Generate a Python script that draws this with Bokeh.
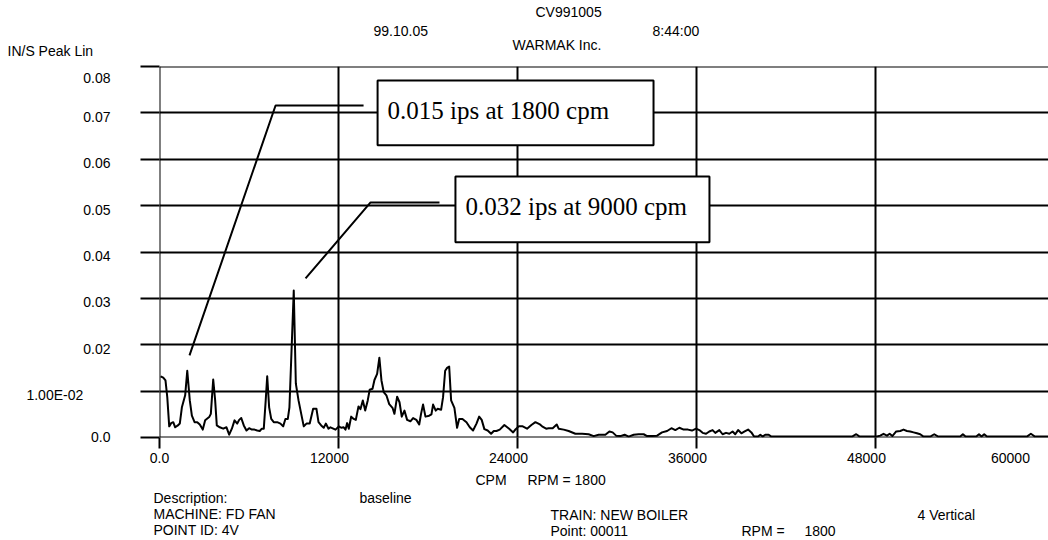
from bokeh.plotting import figure
from bokeh.layouts import column
from bokeh.models import Range1d, LinearAxis, FixedTicker, Grid, Label, BoxAnnotation
from bokeh.core.properties import value
from bokeh.embed import file_html
from bokeh.resources import INLINE

# ---------------- data ----------------
freq_cpm = [
    70, 250, 400, 520, 650, 780, 920, 1050, 1230, 1360,
    1500, 1720, 1860, 2030, 2170, 2350, 2530, 2700, 2900, 3060,
    3330, 3440, 3600, 3730, 3840, 4040, 4270, 4490, 4670, 4850,
    5030, 5210, 5340, 5480, 5650, 5830, 6010, 6190, 6370, 6550,
    6720, 6860, 6990, 7120, 7220, 7350, 7490, 7660, 7890, 8110,
    8290, 8440, 8600, 8710, 9000, 9140, 9320, 9500, 9670, 9850,
    10070, 10300, 10520, 10660, 10840, 11010, 11150, 11330, 11460,
    11800, 12020, 12180, 12350, 12470, 12580, 12690, 12850, 13020, 13160,
    13340, 13470, 13630, 13790, 13960, 14090, 14280, 14410, 14590, 14740,
    14880, 15030, 15210, 15400, 15620, 15750, 15930, 16090, 16240, 16420,
    16600, 16820, 17000, 17220, 17410, 17540, 17670, 17830, 18080, 18230,
    18340, 18520, 18650, 18880, 19010, 19150, 19280, 19420, 19550, 19770,
    19950, 20090, 20310, 20580, 20800, 21020, 21250, 21430, 21600, 21780,
    22000, 22230, 22410, 22590, 22810, 23120, 23440, 23710, 23880, 24080,
    24350, 24640, 24930, 25200, 25470, 25650, 25920, 26090, 26360, 26630,
    26760, 27100, 27430, 27880, 28330, 28770, 29110, 29440, 29890, 30160,
    30380, 30610, 30900, 31180, 31450, 31790, 32120, 32460, 32690, 33020,
    33360, 33690, 34030, 34320, 34580, 34850, 35140, 35430, 35700, 35970,
    36190, 36410, 36640, 36860, 37080, 37260, 37530, 37750, 37980, 38200,
    38420, 38600, 38790, 39010, 39230, 39460, 39680, 39860, 40130, 40280,
    40430, 40610, 40840, 41020, 41280,
    46430, 46710, 46940, 48100, 48320, 48540, 48770, 48950, 49130, 49390,
    49660, 49880, 50110, 50330, 50550, 50780, 51000, 51220, 51670, 51940,
    52210, 53680, 53860, 54040, 54760, 54940, 55110, 55290, 55470, 58150,
    58420, 58690, 59600,
]
amp_ips = [
    0.0132, 0.0129, 0.0123, 0.0087, 0.0024, 0.0031, 0.0033, 0.0022, 0.0026, 0.0030,
    0.0065, 0.0091, 0.0144, 0.0080, 0.0047, 0.0033, 0.0033, 0.0028, 0.0017, 0.0037,
    0.0044, 0.0051, 0.0125, 0.0080, 0.0026, 0.0022, 0.0019, 0.0022, 0.0006, 0.0019,
    0.0037, 0.0030, 0.0038, 0.0042, 0.0026, 0.0015, 0.0020, 0.0017, 0.0017, 0.0015,
    0.0014, 0.0019, 0.0019, 0.0080, 0.0132, 0.0065, 0.0040, 0.0033, 0.0033, 0.0030,
    0.0024, 0.0040, 0.0040, 0.0065, 0.0317, 0.0116, 0.0080, 0.0051, 0.0024, 0.0030,
    0.0030, 0.0062, 0.0062, 0.0033, 0.0026, 0.0021, 0.0030, 0.0019, 0.0022,
    0.0017, 0.0024, 0.0021, 0.0022, 0.0017, 0.0031, 0.0019, 0.0045, 0.0040, 0.0038,
    0.0067, 0.0061, 0.0080, 0.0058, 0.0080, 0.0103, 0.0105, 0.0124, 0.0137, 0.0172,
    0.0123, 0.0098, 0.0091, 0.0072, 0.0064, 0.0051, 0.0088, 0.0076, 0.0045, 0.0058,
    0.0038, 0.0035, 0.0042, 0.0038, 0.0028, 0.0052, 0.0071, 0.0045, 0.0047, 0.0050,
    0.0071, 0.0058, 0.0062, 0.0060, 0.0087, 0.0144, 0.0150, 0.0153, 0.0080, 0.0064,
    0.0021, 0.0040, 0.0040, 0.0033, 0.0022, 0.0015, 0.0030, 0.0045, 0.0038, 0.0018,
    0.0015, 0.0008, 0.0014, 0.0014, 0.0017, 0.0027, 0.0019, 0.0011, 0.0018, 0.0024,
    0.0024, 0.0019, 0.0027, 0.0033, 0.0029, 0.0024, 0.0019, 0.0020, 0.0020, 0.0028,
    0.0019, 0.0017, 0.0014, 0.0008, 0.0008, 0.0007, 0.0003, 0.0006, 0.0006, 0.0013,
    0.0011, 0.0004, 0.0003, 0.0006, 0.0002, 0.0006, 0.0007, 0.0007, 0.0003, 0.0003,
    0.0004, 0.0011, 0.0014, 0.0020, 0.0016, 0.0021, 0.0017, 0.0017, 0.0015, 0.0019,
    0.0016, 0.0010, 0.0008, 0.0013, 0.0016, 0.0010, 0.0016, 0.0007, 0.0010, 0.0008,
    0.0013, 0.0007, 0.0016, 0.0009, 0.0013, 0.0017, 0.0011, 0.0002, 0.0002, 0.0006,
    0.0002, 0.0006, 0.0006, 0.0002, 0.0002,
    0.0002, 0.0007, 0.0002, 0.0002, 0.0004, 0.0008, 0.0004, 0.0008, 0.0003, 0.0013,
    0.0014, 0.0017, 0.0014, 0.0013, 0.0011, 0.0009, 0.0007, 0.0002, 0.0002, 0.0007,
    0.0002, 0.0002, 0.0007, 0.0002, 0.0002, 0.0007, 0.0002, 0.0007, 0.0002, 0.0002,
    0.0008, 0.0002, 0.0002,
]

x_ticks = [0, 12000, 24000, 36000, 48000]
x_tick_labels = ["0.0", "12000", "24000", "36000", "48000", "60000"]
y_ticks = [0.0, 0.01, 0.02, 0.03, 0.04, 0.05, 0.06, 0.07, 0.08]
y_tick_labels = ["0.0", "1.00E-02" + "\u00a0" * 7, "0.02", "0.03", "0.04",
                 "0.05", "0.06", "0.07", "0.08"]

callout_texts = ["0.015 ips at 1800 cpm", "0.032 ips at 9000 cpm"]
callout_tip_x = [2010, 9790]
callout_tip_y = [0.0177, 0.0343]
callout_elbow_x = [7780, 14150]
callout_elbow_y = [0.0716, 0.0507]
callout_end_x = [13680, 18770]
box_left = [14620, 19840]
box_right = [33120, 36870]
box_top = [0.0770, 0.0563]
box_bottom = [0.0630, 0.0421]

# page texts: (text, left px, centre-y px) in page coordinates
header_texts = [
    ("CV991005", 535, 11),
    ("99.10.05", 373, 30),
    ("8:44:00", 652, 30),
    ("WARMAK Inc.", 512, 44),
    ("IN/S Peak Lin", 7, 50),
]
footer_texts = [
    ("CPM", 475, 479),
    ("RPM = 1800", 527, 479),
    ("Description:", 153, 497),
    ("baseline", 359, 497),
    ("MACHINE: FD FAN", 153, 513),
    ("TRAIN: NEW BOILER", 550, 514),
    ("4 Vertical", 917, 514),
    ("POINT ID: 4V", 153, 529),
    ("Point: 00011", 550, 530),
    ("RPM =", 741, 530),
    ("1800", 804, 530),
]

# ---------------- layout ----------------
W, H = 1048, 540
HEAD_H = 58            # header strip height
FOOT_Y = 471           # footer strip starts here
FRAME_L, FRAME_T, FRAME_B = 159, 66, 437
X_END = 59600.0
Y_END = 0.08
EPS_X, EPS_Y = 1.0, 1e-6
SANS = "Liberation Sans"
SERIF = "Liberation Serif"

cpm_per_px = (X_END + EPS_X) / (W - FRAME_L)
ips_per_px = (Y_END + 2 * EPS_Y) / (FRAME_B - FRAME_T)


def text_strip(items, y0, y1):
    f = figure(width=W, height=y1 - y0, output_backend="svg", toolbar_location=None,
               x_range=Range1d(0, W), y_range=Range1d(y1, y0),
               x_axis_type=None, y_axis_type=None, frame_align=False,
               min_border_left=0, min_border_right=0, min_border_top=0, min_border_bottom=0,
               background_fill_color="white", border_fill_color="white")
    f.outline_line_color = None
    f.text(x=[i[1] for i in items], y=[i[2] for i in items], text=[i[0] for i in items],
           text_font=value(SANS), text_font_size=value("14px"), text_color="black",
           text_baseline="middle", text_align="left")
    return f


p = figure(width=W, height=FOOT_Y - HEAD_H, output_backend="svg", toolbar_location=None,
           x_range=Range1d(-EPS_X, X_END), y_range=Range1d(-EPS_Y, Y_END + EPS_Y),
           x_axis_type=None, y_axis_type=None, frame_align=False,
           min_border_left=FRAME_L, min_border_right=0,
           min_border_top=FRAME_T - HEAD_H, min_border_bottom=FOOT_Y - FRAME_B,
           background_fill_color="white", border_fill_color="white")
p.outline_line_color = None

p.add_layout(Grid(dimension=0, ticker=FixedTicker(ticks=x_ticks),
                  grid_line_color="black", grid_line_width=2))
p.add_layout(Grid(dimension=1, ticker=FixedTicker(ticks=y_ticks),
                  grid_line_color="black", grid_line_width=2))

common_tick = dict(major_tick_in=0, minor_tick_in=0, minor_tick_out=0,
                   major_tick_line_color="black", major_tick_line_width=2,
                   axis_line_color=None)

# tick marks (no labels)
ax_x = LinearAxis(ticker=FixedTicker(ticks=x_ticks), major_tick_out=11,
                  major_label_overrides={t: "" for t in x_ticks},
                  major_label_text_font_size="0px", major_label_standoff=0, **common_tick)
p.add_layout(ax_x, "below")
ax_y = LinearAxis(ticker=FixedTicker(ticks=y_ticks), major_tick_out=19,
                  major_label_overrides={t: "" for t in y_ticks},
                  major_label_text_font_size="0px", major_label_standoff=0, **common_tick)
p.add_layout(ax_y, "left")

# tick labels, placed slightly off their ticks as in the reference
xs = int(round(9 * cpm_per_px))
xlab_ticks = [x_ticks[0]] + [t - xs for t in x_ticks[1:]] + [int(round(X_END - 38 * cpm_per_px))]
ylab_ticks = ([y_ticks[0]] + [round(t - 4 * ips_per_px, 6) for t in y_ticks[1:-1]]
              + [round(y_ticks[-1] - 11 * ips_per_px, 6)])

lab_common = dict(major_tick_out=0, major_tick_in=0, minor_tick_in=0, minor_tick_out=0,
                  axis_line_color=None, major_tick_line_color=None,
                  major_label_text_font=SANS, major_label_text_font_size="14px",
                  major_label_text_color="black")
ax_xl = LinearAxis(ticker=FixedTicker(ticks=xlab_ticks),
                   major_label_overrides=dict(zip(xlab_ticks, x_tick_labels)),
                   major_label_standoff=4, **lab_common)
p.add_layout(ax_xl, "below")
ax_yl = LinearAxis(ticker=FixedTicker(ticks=ylab_ticks),
                   major_label_overrides=dict(zip(ylab_ticks, y_tick_labels)),
                   major_label_standoff=30, **lab_common)
p.add_layout(ax_yl, "left")

# spectrum
p.line(freq_cpm, amp_ips, line_color="black", line_width=2, line_join="round")

# callouts
for i, txt in enumerate(callout_texts):
    p.line([callout_tip_x[i], callout_elbow_x[i], callout_end_x[i]],
           [callout_tip_y[i], callout_elbow_y[i], callout_elbow_y[i]],
           line_color="black", line_width=2)
    p.add_layout(BoxAnnotation(left=box_left[i], right=box_right[i],
                               top=box_top[i], bottom=box_bottom[i],
                               fill_color="white", fill_alpha=1.0,
                               line_color="black", line_width=2, line_alpha=1.0))
    p.add_layout(Label(x=box_left[i], y=box_top[i], x_offset=10, y_offset=-30,
                       text=txt, text_font=SERIF, text_font_size="25px",
                       text_color="black", text_baseline="alphabetic", text_align="left"))

header = text_strip(header_texts, 0, HEAD_H)
footer = text_strip(footer_texts, FOOT_Y, H)

page = column(header, p, footer, spacing=0)
open("out.html", "w").write(file_html(page, INLINE))
